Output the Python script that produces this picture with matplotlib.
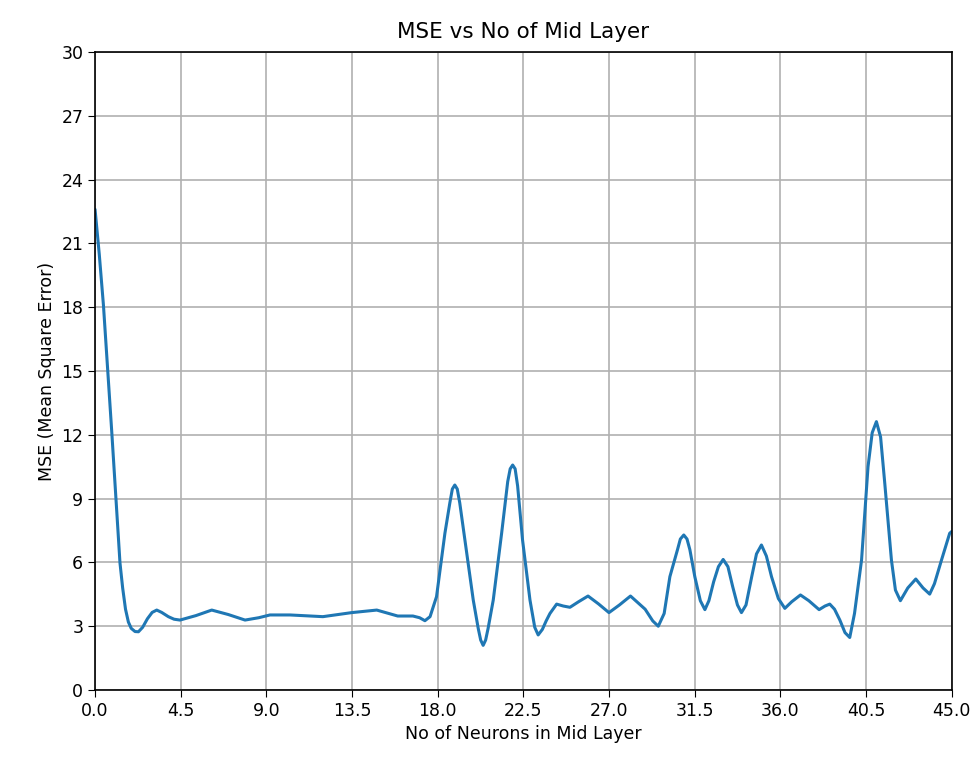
import matplotlib
matplotlib.use("Agg")
import matplotlib.pyplot as plt

# Values (x = neurons, y = MSE)
neurons = [0.0, 0.22, 0.44, 0.66, 0.88, 1.1, 1.31, 1.45, 1.6, 1.75, 1.9, 2.1, 2.28, 2.5,
           2.75, 3.0, 3.24, 3.5, 3.85, 4.15, 4.46, 5.3, 6.13, 7.0, 7.88, 8.6, 9.19,
           10.24, 11.97, 13.48, 14.8, 15.9, 16.7, 17.05, 17.33, 17.6, 17.94, 18.15,
           18.38, 18.64, 18.77, 18.9, 19.03, 19.16, 19.43, 19.87, 20.13, 20.26, 20.39,
           20.52, 20.65, 20.92, 21.36, 21.68, 21.81, 21.94, 22.07, 22.2, 22.46, 22.85,
           23.1, 23.28, 23.5, 23.7, 23.9, 24.25, 24.6, 24.95, 25.4, 25.9, 26.45, 27.0,
           27.55, 28.13, 28.9, 29.3, 29.59, 29.9, 30.2, 30.6, 30.75, 30.93, 31.1,
           31.25, 31.51, 31.8, 32.04, 32.25, 32.5, 32.75, 33.0, 33.25, 33.5, 33.75,
           33.96, 34.2, 34.5, 34.75, 35.01, 35.27, 35.54, 35.9, 36.24, 36.6, 37.06,
           37.5, 38.04, 38.35, 38.6, 38.85, 39.13, 39.4, 39.65, 39.9, 40.27, 40.61,
           40.83, 41.05, 41.27, 41.49, 41.84, 42.05, 42.31, 42.7, 43.12, 43.5, 43.85,
           44.1, 44.47, 44.9, 45.0]
mse = [22.6, 20.5, 18.1, 15.1, 12.1, 9.0, 5.97, 4.8, 3.8, 3.2, 2.9, 2.75, 2.74, 2.95,
       3.35, 3.65, 3.76, 3.65, 3.45, 3.33, 3.29, 3.5, 3.76, 3.55, 3.29, 3.4, 3.53,
       3.53, 3.45, 3.64, 3.76, 3.48, 3.48, 3.4, 3.26, 3.45, 4.39, 5.8,
       7.37, 8.8, 9.45, 9.64, 9.45, 8.8, 7.05, 4.23, 2.9, 2.35, 2.1,
       2.35, 2.9, 4.23, 7.37, 9.8, 10.4, 10.58, 10.4, 9.6, 7.05, 4.23,
       2.95, 2.59, 2.85, 3.25, 3.6, 4.04, 3.95, 3.89, 4.15, 4.42, 4.05, 3.64,
       4.0, 4.42, 3.8, 3.25, 3.0, 3.6, 5.33, 6.6, 7.1, 7.29, 7.1,
       6.6, 5.33, 4.2, 3.78, 4.2, 5.09, 5.8, 6.14, 5.8, 4.86, 4.0,
       3.64, 4.0, 5.33, 6.4, 6.82, 6.3, 5.33, 4.3, 3.84, 4.15, 4.47,
       4.2, 3.78, 3.95, 4.04, 3.8, 3.29, 2.7, 2.47, 3.6, 6.11, 10.5,
       12.1, 12.62, 11.9, 9.72, 6.11, 4.7, 4.2, 4.8, 5.22, 4.8, 4.51,
       5.0, 6.11, 7.37, 7.45]

xticks = [0.0, 4.5, 9.0, 13.5, 18.0, 22.5, 27.0, 31.5, 36.0, 40.5, 45.0]
yticks = [0, 3, 6, 9, 12, 15, 18, 21, 24, 27, 30]

fig = plt.figure(figsize=(9.8, 7.65), dpi=100)
ax = fig.add_axes([0.097, 0.098, 0.874, 0.834])
ax.plot(neurons, mse, color="#1f77b4", linewidth=2.2,
        solid_joinstyle="round", solid_capstyle="round")
ax.set_xlim(0, 45)
ax.set_ylim(0, 30)
ax.set_xticks(xticks)
ax.set_xticklabels([f"{t:.1f}" for t in xticks])
ax.set_yticks(yticks)
ax.tick_params(labelsize=12.5, length=5)
ax.grid(True, color="#b0b0b0", linewidth=1.2)
ax.set_axisbelow(True)
ax.set_title("MSE vs No of Mid Layer", fontsize=15.5, pad=10)
ax.set_xlabel("No of Neurons in Mid Layer", fontsize=12.5)
ax.set_ylabel("MSE (Mean Square Error)", fontsize=12.5)
for s in ax.spines.values():
    s.set_linewidth(1.2)
fig.savefig("out.png", dpi=100)
